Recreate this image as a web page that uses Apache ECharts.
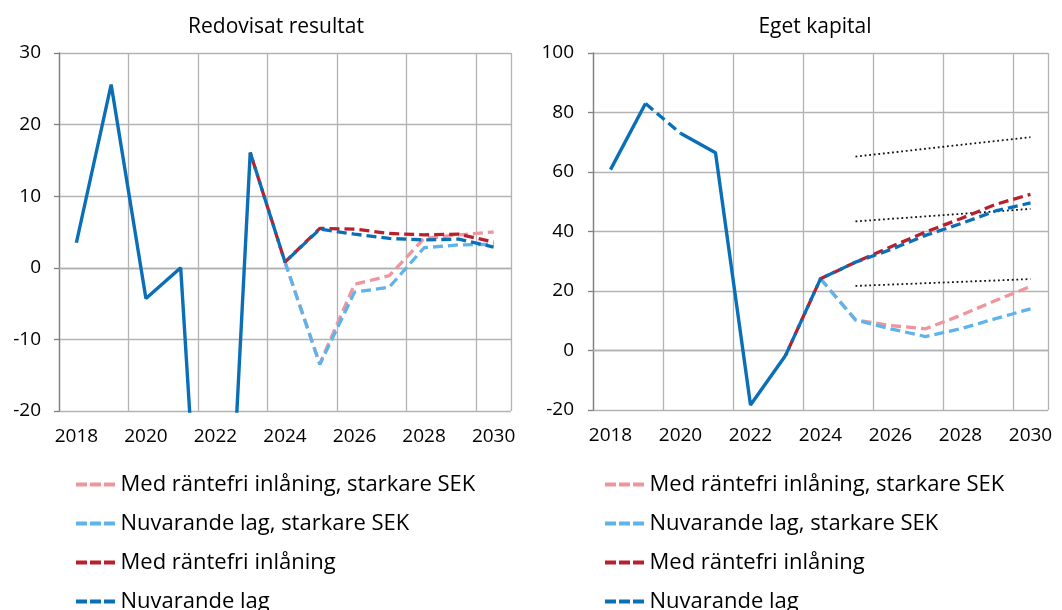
<!DOCTYPE html>
<html>
<head>
<meta charset="utf-8">
<script src="https://cdn.jsdelivr.net/npm/echarts@6/dist/echarts.min.js"></script>
<style>
  html, body { margin: 0; padding: 0; background: #fff; }
  #chart { width: 1062px; height: 610px; }
</style>
</head>
<body>
<div id="chart"></div>
<script>
// år
const years = ['2018', '2019', '2020', '2021', '2022', '2023', '2024', '2025', '2026', '2027', '2028', '2029', '2030']

// Redovisat resultat
const resUtfall = [3.5, 25.6, -4.3, 0, -78, 16.1, null, null, null, null, null, null, null]
const resRantefriSek = [null, null, null, null, null, null, 0.8, -13.4, -2.3, -1.1, 4.1, 4.6, 5.0]
const resNuvarandeSek = [null, null, null, null, null, null, 0.8, -13.5, -3.4, -2.7, 2.8, 3.2, 3.3]
const resRantefri = [null, null, null, null, null, 16.1, 0.8, 5.5, 5.4, 4.8, 4.6, 4.7, 3.6]
const resNuvarande = [null, null, null, null, null, 16.1, 0.8, 5.4, 4.7, 4.1, 3.9, 4.0, 2.9]

// Eget kapital
const kapUtfallA = [60.8, 83.0, null, null, null, null, null, null, null, null, null, null, null]
const kapUtfallB = [null, null, 73.0, 66.5, -18.3, -1.7, null, null, null, null, null, null, null]
const kapRantefriSek = [null, null, null, null, null, null, 24.1, 10.3, 8.4, 7.3, 11.8, 16.8, 21.5]
const kapNuvarandeSek = [null, null, null, null, null, null, 24.1, 10.3, 7.3, 4.7, 7.3, 10.7, 14.0]
const kapRantefri = [null, null, null, null, null, -1.7, 24.1, 29.7, 34.8, 39.8, 44.3, 49.1, 52.5]
const kapNuvarande = [null, 83.0, 73.0, null, null, -1.7, 24.1, 29.7, 33.9, 38.7, 42.6, 46.9, 49.6]
const kapNivaHog = [null, null, null, null, null, null, null, 65.2, null, null, null, null, 71.7]
const kapNivaMellan = [null, null, null, null, null, null, null, 43.4, null, null, null, null, 47.6]
const kapNivaLag = [null, null, null, null, null, null, null, 21.7, null, null, null, null, 24.0]

const names = ['Med räntefri inlåning, starkare SEK', 'Nuvarande lag, starkare SEK', 'Med räntefri inlåning', 'Nuvarande lag']

const font = '"Open Sans", "Noto Sans", sans-serif'
const colPink = '#f0959e'
const colLight = '#5db3eb'
const colRed = '#b9202e'
const colBlue = '#0b6fb8'

// tre streck som legendikon
const dashIcon = 'path://M0,0h11v4h-11z M14,0h11v4h-11z M28,0h11v4h-11z'

let myChart = echarts.init(document.getElementById('chart'))

function lineSerie (name, data, color, idx, extra) {
  return Object.assign({
    name: name,
    type: 'line',
    xAxisIndex: idx,
    yAxisIndex: idx,
    data: data,
    symbol: 'none',
    connectNulls: false,
    lineStyle: { color: color, width: 3.3, type: [10, 5] },
    itemStyle: { color: color }
  }, extra || {})
}

function solid (data, idx) {
  return {
    name: 'Utfall',
    type: 'line',
    xAxisIndex: idx,
    yAxisIndex: idx,
    data: data,
    symbol: 'none',
    lineStyle: { color: colBlue, width: 3.4 },
    itemStyle: { color: colBlue },
    z: 1
  }
}

function dotted (data) {
  return {
    name: 'Nivå',
    type: 'line',
    xAxisIndex: 1,
    yAxisIndex: 1,
    data: data,
    symbol: 'none',
    connectNulls: true,
    lineStyle: { color: '#111', width: 1.8, type: [1.8, 2.8] },
    z: 1
  }
}

function xAx (gridIndex) {
  return {
    type: 'category',
    gridIndex: gridIndex,
    data: years,
    boundaryGap: true,
    axisLine: { show: true, lineStyle: { color: '#b0b0b0', width: 1.3 } },
    axisTick: { show: false, interval: 1 },
    axisLabel: { interval: 1, color: '#000', fontSize: 19, fontFamily: font, margin: 16 },
    splitLine: { show: true, interval: 1, lineStyle: { color: '#b3b3b3', width: 1.3 } }
  }
}

function yAx (gridIndex, min, max, interval, margin) {
  return {
    type: 'value',
    gridIndex: gridIndex,
    min: min,
    max: max,
    interval: interval,
    axisLine: { show: true, lineStyle: { color: '#808080', width: 1.3 } },
    axisTick: { show: true, length: 5, lineStyle: { color: '#808080', width: 1.3 } },
    axisLabel: { color: '#000', fontSize: 19, fontFamily: font, margin: margin },
    splitLine: { show: true, lineStyle: { color: '#b3b3b3', width: 1.3 } }
  }
}

function legend (left) {
  return {
    data: names,
    orient: 'vertical',
    left: left,
    top: 467,
    height: 400,
    icon: dashIcon,
    itemWidth: 40,
    itemHeight: 4,
    itemGap: 14,
    textStyle: { color: '#000', fontSize: 22, fontFamily: font, lineHeight: 25 }
  }
}

myChart.setOption({
  animation: false,
  backgroundColor: '#fff',
  title: [
    { text: 'Redovisat resultat', left: 271, top: 12, textAlign: 'center',
      textStyle: { color: '#000', fontSize: 21, fontWeight: 'normal', fontFamily: font } },
    { text: 'Eget kapital', left: 810, top: 12, textAlign: 'center',
      textStyle: { color: '#000', fontSize: 21, fontWeight: 'normal', fontFamily: font } }
  ],
  legend: [legend(71), legend(600)],
  grid: [
    { left: 59, top: 53, width: 452, height: 358 },
    { left: 593, top: 53, width: 455, height: 357 }
  ],
  xAxis: [xAx(0), xAx(1)],
  yAxis: [yAx(0, -20, 30, 10, 18), yAx(1, -20, 100, 20, 19)],
  series: [
    // vänster
    solid(resUtfall, 0),
    lineSerie(names[0], resRantefriSek, colPink, 0, { z: 2 }),
    lineSerie(names[1], resNuvarandeSek, colLight, 0, { z: 3 }),
    lineSerie(names[2], resRantefri, colRed, 0, { z: 4 }),
    lineSerie(names[3], resNuvarande, colBlue, 0, { z: 5 }),
    // höger
    solid(kapUtfallA, 1),
    solid(kapUtfallB, 1),
    dotted(kapNivaHog),
    dotted(kapNivaMellan),
    dotted(kapNivaLag),
    lineSerie(names[0], kapRantefriSek, colPink, 1, { z: 2 }),
    lineSerie(names[1], kapNuvarandeSek, colLight, 1, { z: 3 }),
    lineSerie(names[2], kapRantefri, colRed, 1, { z: 4 }),
    lineSerie(names[3], kapNuvarande, colBlue, 1, { z: 5 })
  ]
})

// röd streckad förskjuten så att den syns i luckorna
myChart.setOption({
  series: [
    {}, {}, {},
    { lineStyle: { dashOffset: 7 } },
    {}, {}, {}, {}, {}, {}, {}, {},
    { lineStyle: { dashOffset: 7 } },
    {}
  ]
})
</script>
</body>
</html>
